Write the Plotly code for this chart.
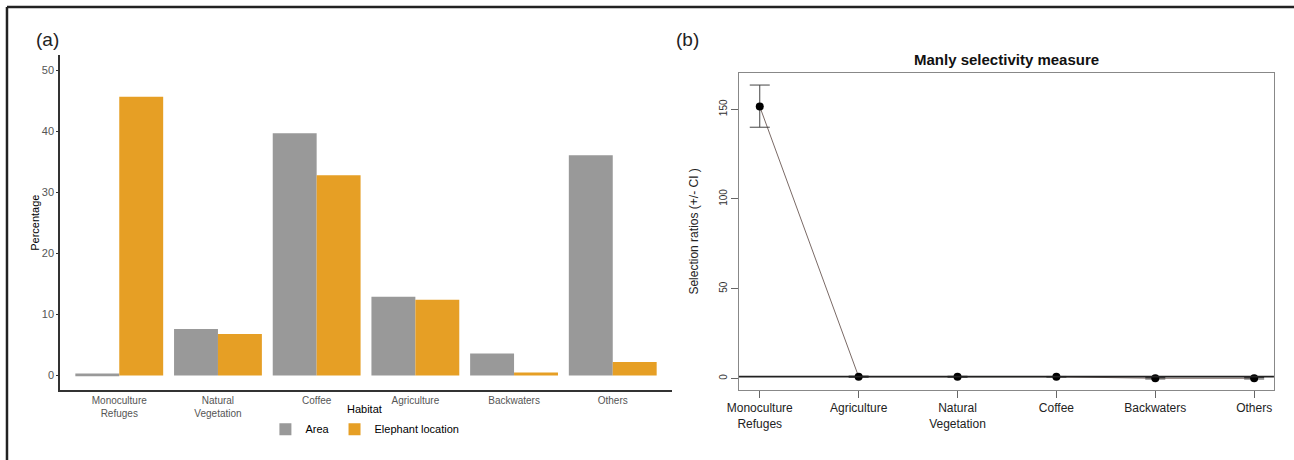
import plotly.graph_objects as go

# ---- Panel (a) data ----
habitats_a = ["Monoculture<br>Refuges", "Natural<br>Vegetation", "Coffee", "Agriculture", "Backwaters", "Others"]
area_pct = [0.3, 7.6, 39.7, 12.9, 3.6, 36.1]
elephant_pct = [45.7, 6.8, 32.8, 12.4, 0.5, 2.2]

# ---- Panel (b) data ----
habitats_b = ["Monoculture<br>Refuges", "Agriculture", "Natural<br>Vegetation", "Coffee", "Backwaters", "Others"]
sel_ratio = [151.5, 0.95, 0.9, 0.9, 0.1, 0.1]
ci_upper = [163.5, 1.3, 1.2, 1.1, 0.5, 0.5]
ci_lower = [140.0, 0.6, 0.6, 0.7, -0.3, -0.3]
pos_b = list(range(len(habitats_b)))

FONT = "Liberation Sans, Arial, sans-serif"
GRAY = "#999999"
ORANGE = "#E69F25"

fig = go.Figure()

fig.add_trace(go.Bar(x=habitats_a, y=area_pct, name="Area", marker_color=GRAY,
                     marker_line_width=0, xaxis="x", yaxis="y"))
fig.add_trace(go.Bar(x=habitats_a, y=elephant_pct, name="Elephant location", marker_color=ORANGE,
                     marker_line_width=0, xaxis="x", yaxis="y"))

# panel (b): connecting line + points with CI
err_plus = [u - v for u, v in zip(ci_upper, sel_ratio)]
err_minus = [v - l for v, l in zip(sel_ratio, ci_lower)]
fig.add_trace(go.Scatter(x=pos_b, y=sel_ratio, mode="lines", line=dict(color="#7a6a66", width=1),
                         xaxis="x2", yaxis="y2", showlegend=False, hoverinfo="skip"))
fig.add_trace(go.Scatter(x=pos_b, y=sel_ratio, mode="markers",
                         marker=dict(color="black", size=8),
                         error_y=dict(type="data", array=err_plus, arrayminus=err_minus,
                                      color="#444444", thickness=1, width=10),
                         xaxis="x2", yaxis="y2", showlegend=False))

# reference line at selection ratio = 1
fig.add_shape(type="line", xref="x2 domain", yref="y2", x0=0, x1=1, y0=1, y1=1,
              line=dict(color="#222222", width=1.6))

# outer frame (top and left edges visible)
fig.add_shape(type="line", xref="paper", yref="paper", x0=0.0054, x1=1.0, y0=0.985, y1=0.985,
              line=dict(color="#222222", width=2.5))
fig.add_shape(type="line", xref="paper", yref="paper", x0=0.0054, x1=0.0054, y0=0.0, y1=0.985,
              line=dict(color="#222222", width=2.5))

fig.update_layout(
    width=1294, height=460,
    margin=dict(l=0, r=0, t=0, b=0, autoexpand=False),
    paper_bgcolor="white", plot_bgcolor="white",
    font=dict(family=FONT, color="black"),
    barmode="group", bargap=0.11, bargroupgap=0,
    xaxis=dict(domain=[0.0464, 0.5193], anchor="y", range=[-0.6, 5.6], automargin=False,
               showline=True, linecolor="#333333", linewidth=1.5, showgrid=False,
               ticks="", tickfont=dict(size=10, color="#555555")),
    yaxis=dict(domain=[0.152, 0.880], anchor="x", range=[-2.4, 52.5], automargin=False,
               showline=True, linecolor="#333333", linewidth=1.5, showgrid=False, zeroline=False,
               ticks="outside", ticklen=2, tickcolor="#333333", tickvals=[0, 10, 20, 30, 40, 50],
               tickfont=dict(size=11, color="#555555"),
               title=dict(text="Percentage", font=dict(size=11, color="black"), standoff=0)),
    xaxis2=dict(domain=[0.5711, 0.9845], anchor="y2", range=[-0.21, 5.2], automargin=False,
                tickvals=pos_b, ticktext=habitats_b,
                showline=True, mirror=True, linecolor="#888888", linewidth=1, showgrid=False,
                zeroline=False, ticks="outside", ticklen=7, tickcolor="#666666",
                tickfont=dict(size=12, color="#222222")),
    yaxis2=dict(domain=[0.152, 0.842], anchor="x2", range=[-6.5, 170.4], automargin=False,
                tickvals=[0, 50, 100, 150], tickangle=-90,
                showline=True, mirror=True, linecolor="#888888", linewidth=1, showgrid=False,
                zeroline=False, ticks="outside", ticklen=7, tickcolor="#666666",
                tickfont=dict(size=10, color="#333333"),
                title=dict(text="Selection ratios (+/- CI )", font=dict(size=12, color="#222222"), standoff=16)),
    legend=dict(orientation="h", x=0.282, xanchor="center", y=0.067, yanchor="middle",
                font=dict(size=11), itemwidth=30, tracegroupgap=0, bgcolor="rgba(0,0,0,0)"),
    annotations=[
        dict(text="Habitat", x=0.282, y=1 - 409 / 460, xref="paper", yref="paper", showarrow=False,
             font=dict(size=11, color="black"), xanchor="center", yanchor="middle"),
        dict(text="(a)", x=0.026, y=0.915, xref="paper", yref="paper", showarrow=False,
             font=dict(size=19, color="#222222"), xanchor="left", yanchor="middle"),
        dict(text="(b)", x=0.521, y=0.915, xref="paper", yref="paper", showarrow=False,
             font=dict(size=19, color="#222222"), xanchor="left", yanchor="middle"),
        dict(text="<b>Manly selectivity measure</b>", x=0.7778, y=0.870, xref="paper", yref="paper",
             showarrow=False, font=dict(size=15, color="#111111"), xanchor="center", yanchor="middle"),
    ],
)

fig.write_html("out.html", config={"displayModeBar": False},
               post_script="document.body.style.margin='0';")
